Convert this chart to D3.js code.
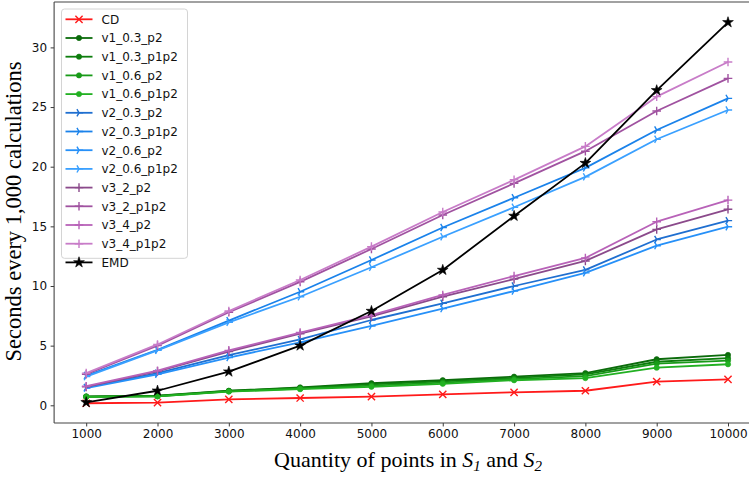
<!DOCTYPE html>
<html><head><meta charset="utf-8">
<script src="https://cdn.jsdelivr.net/npm/d3@7"></script>
<style>html,body{margin:0;padding:0;background:#fff;}svg{display:block;}</style>
</head><body>
<script>
const xValues = [1000,2000,3000,4000,5000,6000,7000,8000,9000,10000];
const yTicks = [0,5,10,15,20,25,30];
const seriesNames = ["CD","v1_0.3_p2","v1_0.3_p1p2","v1_0.6_p2","v1_0.6_p1p2","v2_0.3_p2","v2_0.3_p1p2","v2_0.6_p2","v2_0.6_p1p2","v3_2_p2","v3_2_p1p2","v3_4_p2","v3_4_p1p2","EMD"];
const CD          = [0.17,0.22,0.50,0.61,0.72,0.92,1.09,1.22,1.98,2.18];
const v1_03_p2    = [0.75,0.80,1.22,1.50,1.85,2.10,2.40,2.70,3.86,4.22];
const v1_03_p1p2  = [0.73,0.78,1.20,1.45,1.75,2.00,2.30,2.60,3.65,3.95];
const v1_06_p2    = [0.71,0.76,1.17,1.40,1.65,1.90,2.20,2.45,3.50,3.75];
const v1_06_p1p2  = [0.70,0.74,1.15,1.35,1.55,1.80,2.10,2.28,3.15,3.44];
const v2_03_p2    = [1.50,2.70,4.20,5.53,7.15,8.55,10.00,11.35,13.90,15.48];
const v2_03_p1p2  = [2.50,4.65,7.10,9.52,12.18,14.90,17.40,19.90,23.08,25.73];
const v2_06_p2    = [1.45,2.60,4.00,5.28,6.65,8.10,9.58,11.10,13.38,14.97];
const v2_06_p1p2  = [2.40,4.60,6.95,9.10,11.57,14.13,16.60,19.15,22.30,24.75];
const v3_2_p2     = [1.55,2.85,4.50,6.00,7.45,9.10,10.58,12.10,14.75,16.43];
const v3_2_p1p2   = [2.60,5.00,7.80,10.35,13.10,15.95,18.60,21.30,24.67,27.40];
const v3_4_p2     = [1.60,2.90,4.60,6.10,7.55,9.25,10.83,12.35,15.39,17.20];
const v3_4_p1p2   = [2.70,5.10,7.90,10.50,13.30,16.20,18.90,21.70,25.87,28.78];
const EMD         = [0.25,1.22,2.82,5.00,7.90,11.34,15.87,20.30,26.40,32.10];
const seriesValues = [CD,v1_03_p2,v1_03_p1p2,v1_06_p2,v1_06_p1p2,v2_03_p2,v2_03_p1p2,v2_06_p2,v2_06_p1p2,v3_2_p2,v3_2_p1p2,v3_4_p2,v3_4_p1p2,EMD];
const seriesColors = ["#ff1a1a","#0b6b0b","#0d7d0d","#189a18","#22b022","#1f6fd0","#1a82ea","#2690f8","#3aa0ff","#8b4a8b","#a052a0","#b862b8","#c87cc8","#000000"];
const seriesMarkers = ["x","dot","dot","dot","dot","tri","tri","tri","tri","plus","plus","plus","plus","star"];

(function(){
const W = 749, H = 477;
const svg = d3.select("body").append("svg").attr("width", W).attr("height", H);

const x = d3.scaleLinear().domain([1000,10000]).range([86.2,728]);
const y = d3.scaleLinear().domain([0,30]).range([405.3,47.4]);
const pL = x(550), pR = x(10450), pT = y(33.8), pB = y(-1.48);

const tickFont = "DejaVu Sans, sans-serif";

svg.append("clipPath").attr("id","clip").append("rect")
  .attr("x", pL).attr("y", pT).attr("width", pR-pL).attr("height", pB-pT);

const xAxis = d3.axisBottom(x).tickValues(xValues).tickSize(3.5).tickPadding(3).tickFormat(d3.format("d"));
const gx = svg.append("g").attr("transform", `translate(0,${pB})`).call(xAxis);
const yAxis = d3.axisLeft(y).tickValues(yTicks).tickSize(3.5).tickPadding(3.5).tickFormat(d3.format("d"));
const gy = svg.append("g").attr("transform", `translate(${pL},0)`).call(yAxis);
[gx, gy].forEach(g => {
  g.select(".domain").remove();
  g.selectAll(".tick line").attr("stroke", "#222").attr("stroke-width", 0.9);
  g.selectAll(".tick text").attr("font-family", tickFont).attr("font-size", 12).attr("fill", "#111");
});

svg.append("line").attr("x1", pL).attr("x2", pL).attr("y1", pT).attr("y2", pB).attr("stroke","#444").attr("stroke-width",1.1);
svg.append("line").attr("x1", pL).attr("x2", pR).attr("y1", pB).attr("y2", pB).attr("stroke","#444").attr("stroke-width",1.1);
svg.append("line").attr("x1", pL).attr("x2", pR).attr("y1", pT).attr("y2", pT).attr("stroke","#444").attr("stroke-width",1.1);

function markerPath(kind, s) {
  switch(kind) {
    case "x": return `M${-s},${-s}L${s},${s}M${-s},${s}L${s},${-s}`;
    case "plus": return `M${-s*1.2},0L${s*1.2},0M0,${-s*1.2}L0,${s*1.2}`;
    case "tri": {
      const r = s*1.15;
      return `M0,0L${r},0M0,0L${-r*0.5},${r*0.866}M0,0L${-r*0.5},${-r*0.866}`;
    }
    case "dot": return d3.symbol(d3.symbolCircle, 22)();
    case "star": return d3.symbol(d3.symbolStar, 36)();
  }
}
function drawMarker(g, kind, color, cx, cy) {
  const p = g.append("path").attr("d", markerPath(kind, 3.6)).attr("transform", `translate(${cx},${cy})`);
  if (kind === "dot" || kind === "star") p.attr("fill", color).attr("stroke", color).attr("stroke-width", 0.6);
  else p.attr("fill", "none").attr("stroke", color).attr("stroke-width", 1.4);
}

const plot = svg.append("g").attr("clip-path","url(#clip)");
const line = d3.line().x((d,i) => x(xValues[i])).y(d => y(d));
seriesValues.forEach((vals, si) => {
  const g = plot.append("g");
  g.append("path").attr("d", line(vals)).attr("fill","none")
    .attr("stroke", seriesColors[si]).attr("stroke-width", 1.8).attr("stroke-linejoin","round");
  vals.forEach((v,i) => drawMarker(g, seriesMarkers[si], seriesColors[si], x(xValues[i]), y(v)));
});

const lg = svg.append("g");
const lx = 61.5, ly = 9, rowH = 18.7;
lg.append("rect").attr("x", lx).attr("y", ly).attr("width", 126).attr("height", 14*rowH - 12.5)
  .attr("rx", 3).attr("fill", "#fff").attr("fill-opacity", 0.85).attr("stroke", "#d4d4d4").attr("stroke-width", 1);
seriesNames.forEach((name, i) => {
  const cy = ly + 10.3 + i*rowH;
  lg.append("line").attr("x1", lx+4).attr("x2", lx+31).attr("y1", cy).attr("y2", cy)
    .attr("stroke", seriesColors[i]).attr("stroke-width", 1.8);
  drawMarker(lg, seriesMarkers[i], seriesColors[i], lx+17.5, cy);
  lg.append("text").attr("x", lx+40).attr("y", cy+4.3).attr("font-family", tickFont).attr("font-size", 12)
    .attr("fill", "#111").text(name);
});

const serif = "Liberation Serif, Times New Roman, serif";
const xl = svg.append("text").attr("x", (pL+pR)/2 + 1).attr("y", 467).attr("text-anchor","middle")
  .attr("font-family", serif).attr("font-size", 22).attr("fill","#000");
xl.append("tspan").text("Quantity of points in ");
xl.append("tspan").attr("font-style","italic").text("S");
xl.append("tspan").attr("font-style","italic").attr("font-size", 15).attr("dy", 4).text("1");
xl.append("tspan").attr("dy", -4).text(" and ");
xl.append("tspan").attr("font-style","italic").text("S");
xl.append("tspan").attr("font-style","italic").attr("font-size", 15).attr("dy", 4).text("2");

svg.append("text").attr("transform", `translate(20.5,${(pT+pB)/2 - 1}) rotate(-90)`).attr("text-anchor","middle")
  .attr("font-family", serif).attr("font-size", 22.5).attr("fill","#000").text("Seconds every 1,000 calculations");
})();
</script>
</body></html>
